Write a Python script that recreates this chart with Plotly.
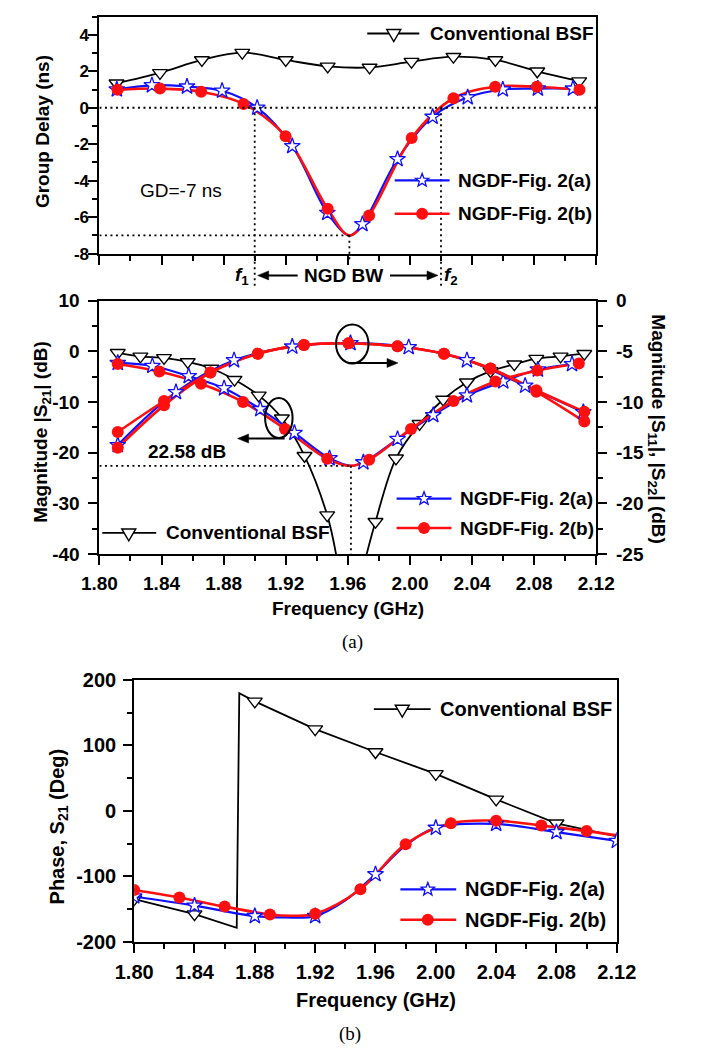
import math
import plotly.graph_objects as go

W, H = 708, 1060
FONT = "Liberation Sans, Arial, sans-serif"
SERIF = "Liberation Serif, Times New Roman, serif"

# ---------------- (a) top: group delay (ns) ----------------
GD_MIN = -7.0          # deepest group delay of the NGDF
F_GD_MIN = 1.961       # frequency of that minimum (GHz)
F1, F2 = 1.90, 2.02    # NGD bandwidth edges (GHz)

gd_bsf_f = [1.811, 1.839, 1.866, 1.892, 1.920, 1.947, 1.974, 2.001, 2.028, 2.055, 2.082, 2.109]
gd_bsf = [1.34, 1.91, 2.62, 3.02, 2.62, 2.27, 2.21, 2.53, 2.80, 2.62, 2.00, 1.46]

gd_a_f = [1.8112, 1.8338, 1.8564, 1.8790, 1.9016, 1.9242, 1.9468, 1.9694, 1.9920,
          2.0146, 2.0372, 2.0598, 2.0824, 2.1050]
gd_a = [1.00, 1.23, 1.16, 0.93, 0.00, -2.11, -5.77, -6.39, -2.82, -0.50, 0.57, 1.00, 1.05, 1.05]

gd_b_f = [1.8117, 1.8390, 1.8655, 1.8928, 1.9199, 1.9470, 1.9737, 2.0011, 2.0280, 2.0549, 2.0817, 2.1092]
gd_b = [0.98, 1.05, 0.88, 0.21, -1.57, -5.54, -5.91, -1.66, 0.52, 1.15, 1.15, 0.98]

# ---------------- (a) middle: magnitudes (dB) ----------------
S21_MIN = -22.58
F_S21_MIN = 1.962

# conventional BSF |S21|, lower and upper skirts (clipped at the -40 dB floor)
s21_bsf_lo_f = [1.8118, 1.8264, 1.8416, 1.8569, 1.8721, 1.8870, 1.9026, 1.9175, 1.9321, 1.9467, 1.9524]
s21_bsf_lo = [-0.3, -1.0, -1.3, -2.1, -3.4, -5.6, -8.7, -13.2, -20.6, -32.3, -40.0]
s21_bsf_hi_f = [1.9721, 1.9778, 1.9910, 2.0062, 2.0214, 2.0367, 2.0519, 2.0672, 2.0814, 2.0970, 2.1123]
s21_bsf_hi = [-40.0, -33.6, -21.1, -14.3, -9.5, -6.1, -3.9, -2.55, -1.45, -1.0, -0.48]

s21_a_f = [1.8118, 1.8341, 1.8575, 1.8803, 1.9036, 1.9256, 1.9482, 1.9700, 1.9920, 2.0150,
           2.0367, 2.0601, 2.0824, 2.1044]
s21_a = [-2.3, -2.9, -4.9, -7.3, -11.4, -16.1, -21.1, -21.9, -17.3, -12.6, -8.7, -5.95, -3.6, -2.55]

s21_b_f = [1.8118, 1.8386, 1.8654, 1.8925, 1.9195, 1.9467, 1.9737, 2.0007, 2.0280, 2.0550, 2.0820, 2.1088]
s21_b = [-2.5, -4.0, -6.4, -10.0, -15.3, -21.2, -21.4, -15.3, -9.8, -5.95, -3.8, -2.4]

s11_a_f = [1.8118, 1.8493, 1.8867, 1.9242, 1.9617, 1.9992, 2.0367, 2.0742, 2.1117]
s11_a = [-14.25, -9.03, -5.89, -4.54, -4.2, -4.6, -5.89, -8.4, -11.0]

s11_b_f = [1.8118, 1.8416, 1.8715, 1.9020, 1.9317, 1.9605, 1.9920, 2.0219, 2.0519, 2.0814, 2.1123]
s11_b = [-12.96, -9.9, -7.1, -5.24, -4.37, -4.21, -4.5, -5.24, -6.69, -8.84, -10.97]
s22_b = [-14.51, -10.33, -7.1, -5.24, -4.37, -4.21, -4.5, -5.24, -6.69, -9.0, -11.93]

# ---------------- (b) phase of S21 (deg) ----------------
ph_bsf_f = [1.80, 1.84, 1.88, 1.92, 1.96, 2.00, 2.04, 2.08]
ph_bsf = [-135, -158, 167.5, 125, 90, 56.5, 17.5, -19]
ph_bsf_wrap_f = [1.868, 1.8697, 2.12]      # phase wrap and band edge
ph_bsf_wrap = [-179, 180, -39]

ph_a_f = [1.80, 1.84, 1.88, 1.92, 1.96, 2.00, 2.04, 2.08, 2.12]
ph_a = [-131, -145, -161, -161, -97, -26, -20, -32.5, -46]
ph_a_knot_f = [1.90, 1.94, 1.98]
ph_a_knot = [-163, -137, -53]

ph_b_f = [1.80, 1.83, 1.86, 1.89, 1.92, 1.95, 1.98, 2.01, 2.04, 2.07, 2.10]
ph_b = [-121, -132.5, -146.5, -158.5, -157.5, -120, -51, -19, -15, -22.5, -31]
ph_b_knot_f = [1.905, 2.12]
ph_b_knot = [-160.5, -37.5]

# ---------------- axes ----------------
freq_ticks = [1.80, 1.84, 1.88, 1.92, 1.96, 2.00, 2.04, 2.08, 2.12]
gd_ticks = [-8, -6, -4, -2, 0, 2, 4]
s21_ticks = [-40, -30, -20, -10, 0, 10]
s11_ticks = [-25, -20, -15, -10, -5, 0]
ph_ticks = [-200, -100, 0, 100, 200]

F_RANGE = [1.80, 2.12]
GD_RANGE = [-8, 5]
S21_RANGE = [-40, 10]
S11_RANGE = [-25, 0]
PH_RANGE = [-200, 200]


def px(X):
    return X / W


def py(Y):
    return 1 - Y / H


TOP_X, TOP_Y = [px(85), px(610)], [py(247.7), py(5.7)]
MID_X, MID_Y = [px(85), px(610)], [py(554.7), py(295.7)]
BOT_X, BOT_Y = [px(121.7), px(631.7)], [py(950.3), py(683.3)]


def to_paper(v, rng, dom):
    return dom[0] + (v - rng[0]) / (rng[1] - rng[0]) * (dom[1] - dom[0])


def knots(mf, mv, ef=(), ev=()):
    pts = sorted(zip(list(mf) + list(ef), list(mv) + list(ev)))
    return [p[0] for p in pts], [p[1] for p in pts]


BLUE, RED = "#1010ff", "#ff1010"
STYLE = {
    "bsf": dict(color="black", width=1.8,
                marker=dict(symbol="triangle-down", size=13, color="white",
                            line=dict(color="black", width=1.4))),
    "a": dict(color=BLUE, width=2.2,
              marker=dict(symbol="star", size=12, color="white",
                          line=dict(color=BLUE, width=1.3))),
    "b": dict(color=RED, width=2.6,
              marker=dict(symbol="circle", size=12, color=RED,
                          line=dict(color=RED, width=0))),
}

fig = go.Figure()


def curve(f, v, key, xa, ya, shape="spline"):
    s = STYLE[key]
    fig.add_trace(go.Scatter(x=f, y=v, mode="lines", xaxis=xa, yaxis=ya,
                             line=dict(color=s["color"], width=s["width"], shape=shape, smoothing=1),
                             hoverinfo="skip", showlegend=False))


def marks(f, v, key, xa, ya):
    fig.add_trace(go.Scatter(x=f, y=v, mode="markers", xaxis=xa, yaxis=ya,
                             marker=STYLE[key]["marker"], hoverinfo="skip", showlegend=False))


# group delay
curve(gd_bsf_f, gd_bsf, "bsf", "x", "y")
marks(gd_bsf_f, gd_bsf, "bsf", "x", "y")
f, v = knots(gd_a_f, gd_a, [F_GD_MIN], [GD_MIN])
curve(f, v, "a", "x", "y")
f, v = knots(gd_b_f, gd_b, [F_GD_MIN], [GD_MIN])
curve(f, v, "b", "x", "y")
marks(gd_a_f, gd_a, "a", "x", "y")
marks(gd_b_f, gd_b, "b", "x", "y")

# magnitudes
curve(s21_bsf_lo_f + [None] + s21_bsf_hi_f, s21_bsf_lo + [None] + s21_bsf_hi, "bsf", "x2", "y2")
bsf_mf = [a for a, b in zip(s21_bsf_lo_f + s21_bsf_hi_f, s21_bsf_lo + s21_bsf_hi) if b > S21_RANGE[0]]
bsf_mv = [b for b in s21_bsf_lo + s21_bsf_hi if b > S21_RANGE[0]]
marks(bsf_mf, bsf_mv, "bsf", "x2", "y2")
f, v = knots(s21_a_f, s21_a, [F_S21_MIN], [S21_MIN])
curve(f, v, "a", "x2", "y2")
f, v = knots(s21_b_f, s21_b, [F_S21_MIN], [S21_MIN])
curve(f, v, "b", "x2", "y2")
marks(s21_a_f, s21_a, "a", "x2", "y2")
marks(s21_b_f, s21_b, "b", "x2", "y2")
curve(s11_a_f, s11_a, "a", "x2", "y3")
curve(s11_b_f, s11_b, "b", "x2", "y3")
curve(s11_b_f, s22_b, "b", "x2", "y3")
marks(s11_a_f, s11_a, "a", "x2", "y3")
marks(s11_b_f, s11_b, "b", "x2", "y3")
marks(s11_b_f, s22_b, "b", "x2", "y3")

# phase
f, v = knots(ph_bsf_f, ph_bsf, ph_bsf_wrap_f, ph_bsf_wrap)
curve(f, v, "bsf", "x3", "y4", shape="linear")
marks(ph_bsf_f, ph_bsf, "bsf", "x3", "y4")
f, v = knots(ph_a_f, ph_a, ph_a_knot_f, ph_a_knot)
curve(f, v, "a", "x3", "y4")
f, v = knots(ph_b_f, ph_b, ph_b_knot_f, ph_b_knot)
curve(f, v, "b", "x3", "y4")
marks(ph_a_f, ph_a, "a", "x3", "y4")
marks(ph_b_f, ph_b, "b", "x3", "y4")


def axis(dom, rng, tickvals, minor_dtick, anchor, size=19, labels=True, fmt=None, standoff=0, **kw):
    d = dict(domain=dom, range=rng, anchor=anchor, showline=True, linecolor="black", linewidth=2,
             ticks="outside", ticklen=9, tickwidth=2, tickcolor="black",
             tickmode="array", tickvals=tickvals,
             ticktext=[(fmt.format(t) if fmt else str(t)) for t in tickvals],
             showticklabels=labels, showgrid=False, zeroline=False, ticklabelstandoff=standoff,
             tickfont=dict(family=FONT, size=size, color="black", weight="bold"),
             minor=dict(tickmode="linear", tick0=rng[0], dtick=minor_dtick, ticks="outside",
                        ticklen=5, tickwidth=2, tickcolor="black", showgrid=False))
    d.update(kw)
    return d


layout = dict(
    width=W, height=H, autosize=False, margin=dict(l=0, r=0, t=0, b=0),
    paper_bgcolor="white", plot_bgcolor="white", showlegend=False,
    xaxis=axis(TOP_X, F_RANGE, freq_ticks, 0.02, "y", labels=False, mirror=True),
    yaxis=axis(TOP_Y, GD_RANGE, gd_ticks, 1, "x", size=17, standoff=-4, mirror=True),
    xaxis2=axis(MID_X, F_RANGE, freq_ticks, 0.02, "y2", fmt="{:.2f}", standoff=2, mirror=True),
    yaxis2=axis(MID_Y, S21_RANGE, s21_ticks, 5, "x2", standoff=5),
    yaxis3=axis(MID_Y, S11_RANGE, s11_ticks, 2.5, "x2", standoff=5, overlaying="y2", side="right"),
    xaxis3=axis(BOT_X, F_RANGE, freq_ticks, 0.02, "y4", size=20, fmt="{:.2f}", standoff=2, mirror=True),
    yaxis4=axis(BOT_Y, PH_RANGE, ph_ticks, 50, "x3", size=20, standoff=3, mirror=True),
)
fig.update_layout(**layout)

shapes, annotations = [], []
DOT = dict(color="black", width=1.8, dash="2px,3.5px")
INK = dict(color="black", width=2)

# group-delay guide lines
shapes.append(dict(type="line", xref="x", yref="y", x0=F_RANGE[0], x1=F_RANGE[1], y0=0, y1=0, line=DOT))
shapes.append(dict(type="line", xref="x", yref="y", x0=F_RANGE[0], x1=F_GD_MIN, y0=GD_MIN, y1=GD_MIN, line=DOT))
for fx in (F1, F2):
    shapes.append(dict(type="line", xref="x", yref="paper", x0=fx, x1=fx,
                       y0=to_paper(0, GD_RANGE, TOP_Y), y1=py(281), line=DOT))
shapes.append(dict(type="line", xref="x", yref="paper", x0=F_GD_MIN, x1=F_GD_MIN,
                   y0=to_paper(GD_MIN, GD_RANGE, TOP_Y), y1=py(257), line=DOT))
# |S21| minimum guide lines
shapes.append(dict(type="line", xref="x2", yref="y2", x0=F_RANGE[0], x1=F_S21_MIN, y0=S21_MIN, y1=S21_MIN, line=DOT))
shapes.append(dict(type="line", xref="x2", yref="y2", x0=F_S21_MIN, x1=F_S21_MIN, y0=S21_MIN, y1=S21_RANGE[0], line=DOT))

# ellipses marking which axis each curve family uses
shapes.append(dict(type="circle", xref="x2", yref="y2", x0=1.9067, x1=1.9244, y0=-17.1, y1=-9.2, line=INK))
shapes.append(dict(type="circle", xref="x2", yref="y2", x0=1.9524, x1=1.9733, y0=-2.4, y1=5.3, line=INK))


def arrow(xref, yref, x, y, tail_px, gap=0):
    """Horizontal arrow whose head sits `gap` px from (x, y); tail at tail_px (signed px offset)."""
    d = -1 if tail_px < 0 else 1
    head = gap * d
    shapes.append(dict(type="line", xref=xref, yref=yref, xsizemode="pixel", xanchor=x,
                       x0=head + 8 * d, x1=tail_px, y0=y, y1=y, line=INK))
    shapes.append(dict(type="path", xref=xref, yref=yref, xsizemode="pixel", ysizemode="pixel",
                       xanchor=x, yanchor=y,
                       path="M%g,0 L%g,4.5 L%g,-4.5 Z" % (head, head + 11 * d, head + 11 * d),
                       fillcolor="black", line=dict(color="black", width=0.5)))


arrow("x2", "y2", 1.8890, -17.2, 47)
arrow("x2", "y2", 1.9923, -2.3, -49)
arrow("x", "paper", F1, py(270), 43, gap=3)
arrow("x", "paper", F2, py(270), -51, gap=3)


def text(X, Y, s, size=19, bold=True, angle=0, xanchor="center", family=FONT):
    annotations.append(dict(x=px(X), y=py(Y), xref="paper", yref="paper", text=s, showarrow=False,
                            textangle=angle, xanchor=xanchor, yanchor="middle",
                            font=dict(family=family, size=size, color="black",
                                      weight="bold" if bold else "normal")))


text(25, 123, "Group Delay (ns)", angle=-90)
text(171, 183, "GD=%d ns" % GD_MIN, bold=False)
text(236, 271, "<i>f</i><sub>1</sub>")
text(457, 271, "<i>f</i><sub>2</sub>")
text(342.5, 270, "NGD BW")
text(24, 430, "Magnitude |S<sub>21</sub>| (dB)", angle=-90)
text(674, 427, "Magnitude |S<sub>11</sub>|, |S<sub>22</sub>| (dB)", angle=90)
text(178, 450, "%.2f dB" % abs(S21_MIN))
text(347.5, 610, "Frequency (GHz)")
text(352, 644, "(a)", bold=False, family=SERIF)
text(42, 833, "Phase, S<sub>21</sub> (Deg)", angle=-90, size=20)
text(377.5, 1010, "Frequency (GHz)", size=20)
text(350, 1045, "(b)", bold=False, family=SERIF)


# legend keys: line sample + marker glyph + label
def star_path(R=7, ratio=0.42):
    pts = []
    for k in range(10):
        r = R if k % 2 == 0 else R * ratio
        a = math.pi / 2 + k * math.pi / 5
        pts.append("%.2f,%.2f" % (r * math.cos(a), r * math.sin(a)))
    return "M" + " L".join(pts) + " Z"


GLYPH = {
    "bsf": dict(type="path", path="M-7,4 L7,4 L0,-8 Z", fillcolor="white",
                line=dict(color="black", width=1.4)),
    "a": dict(type="path", path=star_path(), fillcolor="white", line=dict(color=BLUE, width=1.3)),
    "b": dict(type="circle", x0=-6, x1=6, y0=-6, y1=6, fillcolor=RED, line=dict(color=RED, width=0)),
}


def legend_item(x0, x1, xm, y, key, label, xtext, size=19):
    shapes.append(dict(type="line", xref="paper", yref="paper", x0=px(x0), x1=px(x1), y0=py(y), y1=py(y),
                       line=dict(color=STYLE[key]["color"], width=STYLE[key]["width"])))
    g = dict(xref="paper", yref="paper", xsizemode="pixel", ysizemode="pixel",
             xanchor=px(xm), yanchor=py(y))
    g.update(GLYPH[key])
    shapes.append(g)
    text(xtext, y, label, size=size, xanchor="left")


legend_item(368, 423, 396, 23, "bsf", "Conventional BSF", 432)
legend_item(397, 455, 426, 173, "a", "NGDF-Fig. 2(a)", 462)
legend_item(397, 455, 426, 207, "b", "NGDF-Fig. 2(b)", 462)
legend_item(88, 145, 116, 533, "bsf", "Conventional BSF", 153)
legend_item(399, 457, 428, 498, "a", "NGDF-Fig. 2(a)", 464)
legend_item(399, 457, 428, 528, "b", "NGDF-Fig. 2(b)", 464)
legend_item(375, 435, 405, 713, "bsf", "Conventional BSF", 443, size=20)
legend_item(403, 462, 432, 897, "a", "NGDF-Fig. 2(a)", 469, size=20)
legend_item(403, 462, 432, 928, "b", "NGDF-Fig. 2(b)", 469, size=20)

fig.update_layout(shapes=shapes, annotations=annotations)
fig.write_html("out.html")
